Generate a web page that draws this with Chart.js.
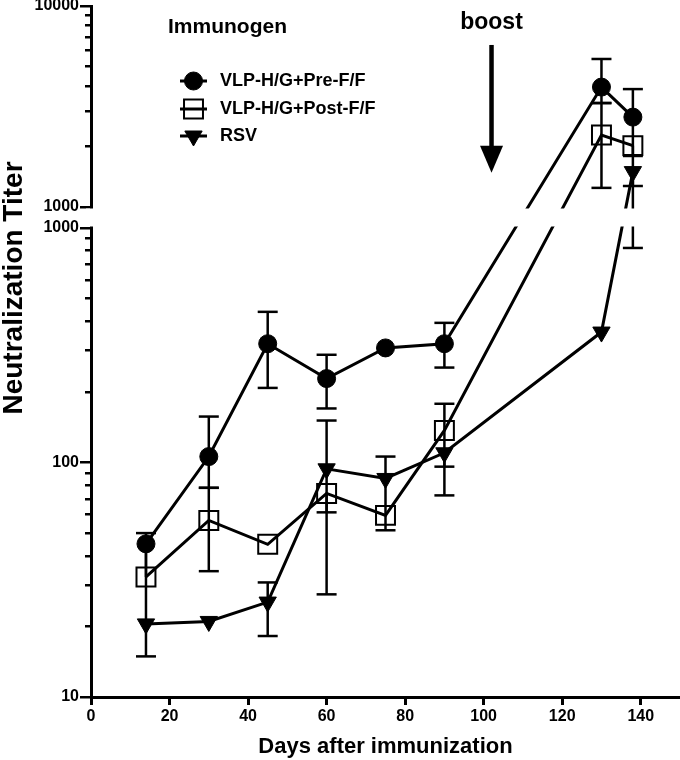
<!DOCTYPE html>
<html>
<head>
<meta charset="utf-8">
<script src="https://cdn.jsdelivr.net/npm/chart.js@4.4.1/dist/chart.umd.min.js"></script>
<style>
  html, body { margin: 0; padding: 0; background: #fff; }
</style>
</head>
<body>
<canvas id="mycanvas" width="680" height="760"></canvas>
<script>
// days after immunization
var days = [14, 30, 45, 60, 75, 90, 130, 138];

// VLP-H/G+Pre-F/F
var preF    = [45, 106, 321, 228, 308, 321, 3950, 2800];
var preF_hi = [50, 157, 439, 288, 325, 394, 5450, 3860];
var preF_lo = [32.5, 78, 208, 170, 282, 254, 3290, 1794];

// VLP-H/G+Post-F/F
var postF    = [32.5, 56.6, 44.8, 73.8, 59.5, 137, 2280, 2020];
var postF_hi = [45, 78, 44.8, 73.8, 59.5, 178, 3290, 2020];
var postF_lo = [20.5, 34.4, 44.8, 61.3, 51.4, 96, 1245, 1272];

// RSV
var rsv    = [20.5, 21, 25.4, 94, 85.5, 110, 360, 1500];
var rsv_hi = [20.5, 21, 30.8, 151, 106, 110, 360, 1500];
var rsv_lo = [14.9, 21, 18.2, 27.4, 60, 72.4, 360, 822];

var xTicks = [0, 20, 40, 60, 80, 100, 120, 140];
var yTicksLower = [10, 20, 30, 40, 50, 60, 70, 80, 90, 100, 200, 300, 400, 500, 600, 700, 800, 900, 1000];
var yTicksUpper = [1000, 2000, 3000, 4000, 5000, 6000, 7000, 8000, 9000, 10000];
var yLabelled = [10, 100, 1000, 10000];

var boostDay = 102;
var boostFrom = 6400;
var boostTo = 1480;

Chart.defaults.font.family = "'Liberation Sans', Arial, sans-serif";
Chart.defaults.color = '#000';

// log axis with a break at 1000 (second decade block on top)
class BrokenLogScale extends Chart.LogarithmicScale {
    breakPixels() {
        var o = this.options;
        var h = this.bottom - this.top - o.breakGap;
        var lowH = h * o.lowerWeight;
        return { upper: this.top + (h - lowH), lower: this.bottom - lowH, lowH: lowH, upH: h - lowH };
    }
    getPixelForValue(value) {
        if (value === null || value === undefined || isNaN(value) || value <= 0) return NaN;
        var o = this.options, b = this.breakPixels();
        var lb = Math.log10(o.breakAt), lmin = Math.log10(this.min), lmax = Math.log10(this.max);
        var lv = Math.log10(value);
        if (value <= o.breakAt) return this.bottom - (lv - lmin) / (lb - lmin) * b.lowH;
        return b.upper - (lv - lb) / (lmax - lb) * b.upH;
    }
    getValueForPixel(pixel) {
        var o = this.options, b = this.breakPixels();
        var lb = Math.log10(o.breakAt), lmin = Math.log10(this.min), lmax = Math.log10(this.max);
        if (pixel >= b.lower) return Math.pow(10, lmin + (this.bottom - pixel) / b.lowH * (lb - lmin));
        return Math.pow(10, lb + (b.upper - pixel) / b.upH * (lmax - lb));
    }
    getPixelForTick(index) {
        var t = this.ticks[index];
        if (!t) return null;
        if (t.upper) return this.breakPixels().upper;
        return this.getPixelForValue(t.value);
    }
    _computeGridLineItems(chartArea) {
        var items = super._computeGridLineItems(chartArea);
        var ticks = this.ticks;
        items.forEach(function (item, i) {
            if (ticks[i] && ticks[i].minor) item.tx1 = item.tx2 - 5;
        });
        return items;
    }
}
BrokenLogScale.id = 'brokenLog';
BrokenLogScale.defaults = Chart.LogarithmicScale.defaults;
Chart.register(BrokenLogScale);

function points(vals) {
    return days.map(function (d, i) { return { x: d, y: vals[i] }; });
}

var errorData = [[preF_hi, preF_lo], [postF_hi, postF_lo], [rsv_hi, rsv_lo]];

function markerHalf(ds) {
    return ds.pointStyle === 'rect' ? ds.pointRadius * Math.SQRT1_2 : ds.pointRadius;
}

var errorBars = {
    id: 'errorBars',
    beforeDatasetsDraw: function (chart) {
        var ctx = chart.ctx, xs = chart.scales.x, ys = chart.scales.y;
        var sets = chart.data.datasets;
        ctx.save();
        ctx.strokeStyle = '#000';
        ctx.lineWidth = 2.5;
        sets.forEach(function (ds, k) {
            var hi = errorData[k][0], lo = errorData[k][1];
            days.forEach(function (d, j) {
                var px = xs.getPixelForValue(d);
                var py = ys.getPixelForValue(ds.data[j].y);
                [hi[j], lo[j]].forEach(function (v) {
                    if (v == null || v === ds.data[j].y) return;
                    var ey = ys.getPixelForValue(v);
                    ctx.beginPath();
                    ctx.moveTo(px, py);
                    ctx.lineTo(px, ey);
                    ctx.stroke();
                    // caps that fall inside a marker are hidden by it
                    var hidden = sets.some(function (s) {
                        return Math.abs(ys.getPixelForValue(s.data[j].y) - ey) < markerHalf(s);
                    });
                    if (!hidden) {
                        ctx.beginPath();
                        ctx.moveTo(px - 10, ey);
                        ctx.lineTo(px + 10, ey);
                        ctx.stroke();
                    }
                });
            });
        });
        ctx.restore();
    },
    afterDatasetsDraw: function (chart) {
        var ctx = chart.ctx, xs = chart.scales.x, ys = chart.scales.y;
        var b = ys.breakPixels();
        ctx.save();
        // axis break: blank band between the two 1000 ticks
        ctx.fillStyle = '#fff';
        ctx.fillRect(ys.right - 5, b.upper + 1.5, chart.width, b.lower - b.upper - 3);

        // y title
        ctx.fillStyle = '#000';
        ctx.font = "bold 28px 'Liberation Sans', Arial, sans-serif";
        ctx.translate(22, 288);
        ctx.rotate(-Math.PI / 2);
        ctx.textAlign = 'center';
        ctx.textBaseline = 'alphabetic';
        ctx.fillText('Neutralization Titer', 0, 0);
        ctx.restore();

        // legend
        ctx.save();
        ctx.fillStyle = '#000';
        ctx.strokeStyle = '#000';
        ctx.textBaseline = 'middle';
        ctx.textAlign = 'left';
        ctx.font = "bold 21px 'Liberation Sans', Arial, sans-serif";
        ctx.fillText('Immunogen', 168, 27);
        var rows = [81, 109, 136];
        ctx.font = "bold 18px 'Liberation Sans', Arial, sans-serif";
        chart.data.datasets.forEach(function (ds, k) {
            var y = rows[k];
            ctx.lineWidth = 3;
            ctx.beginPath();
            ctx.moveTo(180, y);
            ctx.lineTo(207, y);
            ctx.stroke();
            ctx.fillStyle = ds.pointBackgroundColor;
            ctx.lineWidth = ds.pointBorderWidth;
            Chart.helpers.drawPoint(ctx, {
                pointStyle: ds.pointStyle,
                rotation: ds.pointRotation || 0,
                radius: ds.pointRadius,
                borderWidth: ds.pointBorderWidth
            }, 193.5, y);
            ctx.fillStyle = '#000';
            ctx.fillText(ds.label, 220, y);
        });

        // boost arrow
        var ax = xs.getPixelForValue(boostDay);
        var y0 = ys.getPixelForValue(boostFrom);
        var y1 = ys.getPixelForValue(boostTo);
        ctx.textAlign = 'center';
        ctx.font = "bold 23px 'Liberation Sans', Arial, sans-serif";
        ctx.fillText('boost', ax, 23);
        ctx.lineWidth = 4.5;
        ctx.beginPath();
        ctx.moveTo(ax, y0);
        ctx.lineTo(ax, y1 - 26);
        ctx.stroke();
        ctx.beginPath();
        ctx.moveTo(ax - 11.5, y1 - 27);
        ctx.lineTo(ax + 11.5, y1 - 27);
        ctx.lineTo(ax, y1);
        ctx.closePath();
        ctx.fill();
        ctx.restore();
    }
};

var ctx = document.getElementById('mycanvas');
var myChart = new Chart(ctx, {
    type: 'line',
    data: {
        datasets: [
            {
                label: 'VLP-H/G+Pre-F/F',
                data: points(preF),
                borderColor: '#000',
                borderWidth: 3,
                pointStyle: 'circle',
                pointRadius: 9,
                pointBackgroundColor: '#000',
                pointBorderColor: '#000',
                pointBorderWidth: 1
            },
            {
                label: 'VLP-H/G+Post-F/F',
                data: points(postF),
                borderColor: '#000',
                borderWidth: 3,
                pointStyle: 'rect',
                pointRadius: 13.4,
                pointBackgroundColor: 'rgba(0,0,0,0)',
                pointBorderColor: '#000',
                pointBorderWidth: 2
            },
            {
                label: 'RSV',
                data: points(rsv),
                borderColor: '#000',
                borderWidth: 3,
                pointStyle: 'triangle',
                pointRotation: 180,
                pointRadius: 10,
                pointBackgroundColor: '#000',
                pointBorderColor: '#000',
                pointBorderWidth: 1
            }
        ]
    },
    options: {
        responsive: false,
        animation: false,
        devicePixelRatio: 1,
        layout: { autoPadding: false, padding: { top: 6, right: 0, bottom: 0, left: 0 } },
        elements: { line: { tension: 0 } },
        plugins: { legend: { display: false }, tooltip: { enabled: false } },
        scales: {
            x: {
                type: 'linear',
                min: 0,
                max: 150,
                grid: { drawOnChartArea: false, tickLength: 8, lineWidth: 3, color: '#000' },
                border: { color: '#000', width: 3 },
                ticks: { font: { size: 16, weight: 'bold' }, padding: 2, autoSkip: false, maxRotation: 0 },
                afterBuildTicks: function (scale) {
                    scale.ticks = xTicks.map(function (v) { return { value: v }; });
                },
                afterFit: function (scale) {
                    scale.height = 63;
                    scale.paddingLeft = 0;
                    scale.paddingRight = 0;
                },
                title: {
                    display: true,
                    text: 'Days after immunization',
                    font: { size: 22, weight: 'bold' },
                    padding: { top: 0, bottom: 0 }
                }
            },
            y: {
                type: 'brokenLog',
                min: 10,
                max: 10000,
                breakAt: 1000,
                breakGap: 21,
                lowerWeight: 0.70,
                grid: { drawOnChartArea: false, tickLength: 11, lineWidth: 2.5, color: '#000' },
                border: { color: '#000', width: 3 },
                ticks: {
                    font: { size: 16, weight: 'bold' },
                    padding: 1,
                    autoSkip: false,
                    callback: function (value) {
                        return yLabelled.indexOf(value) >= 0 ? String(value) : '';
                    }
                },
                afterBuildTicks: function (scale) {
                    var lower = yTicksLower.map(function (v) {
                        return { value: v, minor: yLabelled.indexOf(v) < 0 };
                    });
                    var upper = yTicksUpper.map(function (v) {
                        return { value: v, minor: yLabelled.indexOf(v) < 0, upper: v === 1000 };
                    });
                    scale.ticks = lower.concat(upper);
                },
                afterFit: function (scale) {
                    scale.width = 91;
                    scale.paddingTop = 0;
                    scale.paddingBottom = 0;
                }
            }
        }
    },
    plugins: [errorBars]
});
</script>
</body>
</html>
